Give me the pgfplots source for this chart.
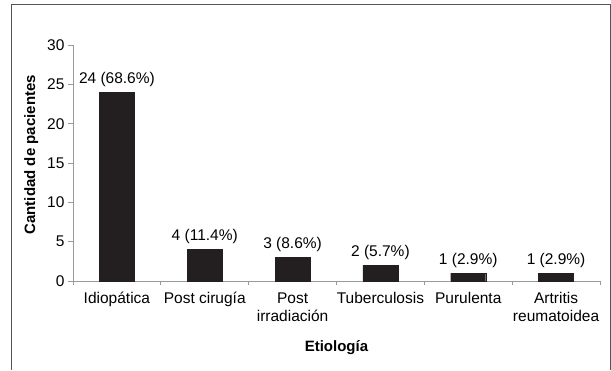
\documentclass[border=0pt]{standalone}
\usepackage{pgfplots}
\pgfplotsset{compat=1.18}
\usepackage{fontspec}
\setmainfont{Liberation Sans}
\definecolor{barc}{HTML}{231F20}
\definecolor{axc}{HTML}{9A9A9A}
\definecolor{framec}{HTML}{555555}
\begin{document}
\begin{tikzpicture}[x=1pt,y=1pt]
\path[use as bounding box] (-73,-89) rectangle (538,281);
\draw[framec,line width=1pt] (-61,-89) -- (-61,276) -- (537,276) -- (537,-89);
\begin{axis}[
  at={(0,0)}, anchor=south west,
  scale only axis, width=527pt, height=236pt,
  xmin=-0.5, xmax=5.5, ymin=0, ymax=30,
  axis x line*=bottom, axis y line*=left,
  axis line style={axc, line width=0.8pt},
  ytick={0,5,...,30},
  xtick={0,1,2,3,4,5},
  xticklabels={Idiopática,Post cirugía,{Post\\irradiación},Tuberculosis,Purulenta,{Artritis\\reumatoidea}},
  xticklabel style={align=center, font=\fontsize{15.5}{18}\selectfont, yshift=-3pt},
  yticklabel style={font=\fontsize{15.5}{16}\selectfont},
  /pgf/number format/assume math mode=true,
  major x tick style={draw=none},
  minor xtick={-0.5,0.5,...,5.5},
  minor tick length=4pt,
  minor tick style={axc, line width=0.8pt},
  major tick length=5pt,
  tick align=outside,
  major y tick style={axc, line width=0.8pt},
  ylabel={\textbf{Cantidad de pacientes}},
  xlabel={\textbf{Etiología}},
  label style={font=\fontsize{15}{16}\selectfont},
  ylabel style={at={(ticklabel cs:0.535)}, yshift=2pt},
  xlabel style={yshift=-12pt},
  ybar, bar width=35pt,
  nodes near coords,
  point meta=explicit symbolic,
  nodes near coords style={font=\fontsize{15.5}{16}\selectfont, yshift=2pt},
  clip=false,
]
\addplot[fill=barc, draw=barc] table[meta=lab, col sep=comma] {
x,y,lab
0,24,24 (68.6\%)
1,4,4 (11.4\%)
2,3,3 (8.6\%)
3,2,2 (5.7\%)
4,1,1 (2.9\%)
5,1,1 (2.9\%)
};
\end{axis}
\end{tikzpicture}
\end{document}
